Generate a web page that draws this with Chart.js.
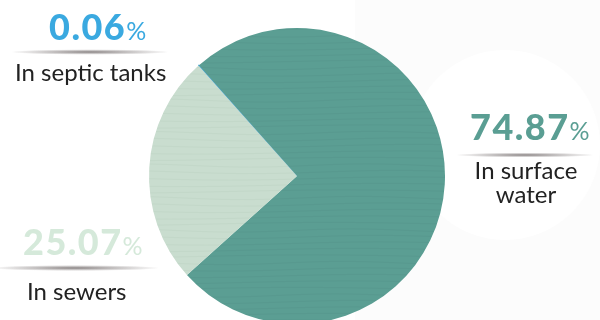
<!DOCTYPE html>
<html>
<head>
    <title>wastewater-pie</title>
    <meta charset="utf-8">
    <script src="https://cdn.jsdelivr.net/npm/chart.js"></script>
    <style>
        body { margin: 0; width: 600px; height: 320px; overflow: hidden; background: #fff; }
        #wrap { position: absolute; left: 0; top: 0; width: 600px; height: 340px; }
    </style>
</head>
<body>
    <div id="wrap">
        <canvas id="piechart" width="600" height="340"></canvas>
    </div>

    <script>
        // data, clockwise from the blue line at top-left
        const categories = ['In septic tanks', 'In surface water', 'In sewers'];
        const shares = [0.06, 74.87, 25.07];
        const shareLabels = ['0.06', '74.87', '25.07'];
        const sliceColors = ['#3aa3de', '#5b9e93', '#c9ddcf'];
        const textColors = ['#3aa9e0', '#5a9e93', '#d5e9da'];

        // where each label sits: number left x, number baseline, label lines
        const labelPos = [
            { nx: 49, ny: 40, lx: 15, ly: [81], shadow: [90, 52, 80] },
            { nx: 470, ny: 140, lx: 526, ly: [179, 203], center: true, shadow: [525, 155, 70] },
            { nx: 23, ny: 255, lx: 27, ly: [300], shadow: [75, 268, 85] }
        ];
        const labelLines = [['In septic tanks'], ['In surface', 'water'], ['In sewers']];

        // wavy paper texture for the slices
        function texture(base, line) {
            const c = document.createElement('canvas');
            c.width = 600; c.height = 340;
            const g = c.getContext('2d');
            g.fillStyle = base;
            g.fillRect(0, 0, 600, 340);
            g.strokeStyle = line;
            g.lineWidth = 1;
            for (let y = 3, k = 0; y < 340; y += 6.5, k++) {
                g.beginPath();
                for (let x = 0; x <= 600; x += 4) {
                    const yy = y + 1.6 * Math.sin(x / (37 + (k % 5) * 9) + k * 1.3);
                    if (x === 0) g.moveTo(x, yy); else g.lineTo(x, yy);
                }
                g.stroke();
            }
            return g.createPattern(c, 'no-repeat');
        }

        const labelPlugin = {
            id: 'labels',
            beforeDraw(chart) {
                const ctx = chart.ctx;
                ctx.save();
                // faint background shapes
                ctx.fillStyle = '#fcfcfc';
                ctx.fillRect(355, 0, 245, 340);
                ctx.fillStyle = '#ffffff';
                ctx.beginPath();
                ctx.ellipse(505, 145, 95, 95, 0, 0, Math.PI * 2);
                ctx.fill();
                // shadow lines under the numbers
                labelPos.forEach(p => {
                    const [cx, cy, w] = p.shadow;
                    const g = ctx.createRadialGradient(cx, cy, 0, cx, cy, w);
                    g.addColorStop(0, 'rgba(60,50,50,0.6)');
                    g.addColorStop(1, 'rgba(60,50,50,0)');
                    ctx.save();
                    ctx.translate(cx, cy);
                    ctx.scale(1, 0.035);
                    ctx.translate(-cx, -cy);
                    ctx.fillStyle = g;
                    ctx.beginPath();
                    ctx.arc(cx, cy, w, 0, Math.PI * 2);
                    ctx.fill();
                    ctx.restore();
                });
                ctx.restore();
            },
            afterDraw(chart) {
                const ctx = chart.ctx;
                ctx.save();
                ctx.textBaseline = 'alphabetic';
                labelPos.forEach((p, i) => {
                    ctx.textAlign = 'left';
                    ctx.fillStyle = textColors[i];
                    ctx.font = '900 36px Lato';
                    ctx.letterSpacing = '1.5px';
                    ctx.fillText(shareLabels[i], p.nx, p.ny);
                    const w = ctx.measureText(shareLabels[i]).width;
                    ctx.letterSpacing = '0px';
                    ctx.font = '25px Lato';
                    ctx.fillText('%', p.nx + w, p.ny);

                    ctx.fillStyle = '#222222';
                    ctx.font = '24px Lato';
                    ctx.textAlign = p.center ? 'center' : 'left';
                    labelLines[i].forEach((t, k) => ctx.fillText(t, p.lx, p.ly[k]));
                });
                ctx.restore();
            }
        };

        new Chart(document.getElementById('piechart'), {
            type: 'pie',
            data: {
                labels: categories,
                datasets: [{
                    data: shares,
                    backgroundColor: [sliceColors[0], texture(sliceColors[1], '#58998f'), texture(sliceColors[2], '#c3d8c9')],
                    borderColor: ['#3aa3de', 'rgba(0,0,0,0)', 'rgba(0,0,0,0)'],
                    borderWidth: [1.2, 0, 0],
                    radius: 148,
                    rotation: -41.7
                }]
            },
            options: {
                responsive: false,
                animation: false,
                layout: { padding: { left: 149, right: 155, top: 28, bottom: 16 } },
                plugins: {
                    legend: { display: false },
                    tooltip: { enabled: false }
                }
            },
            plugins: [labelPlugin]
        });
    </script>
</body>
</html>
